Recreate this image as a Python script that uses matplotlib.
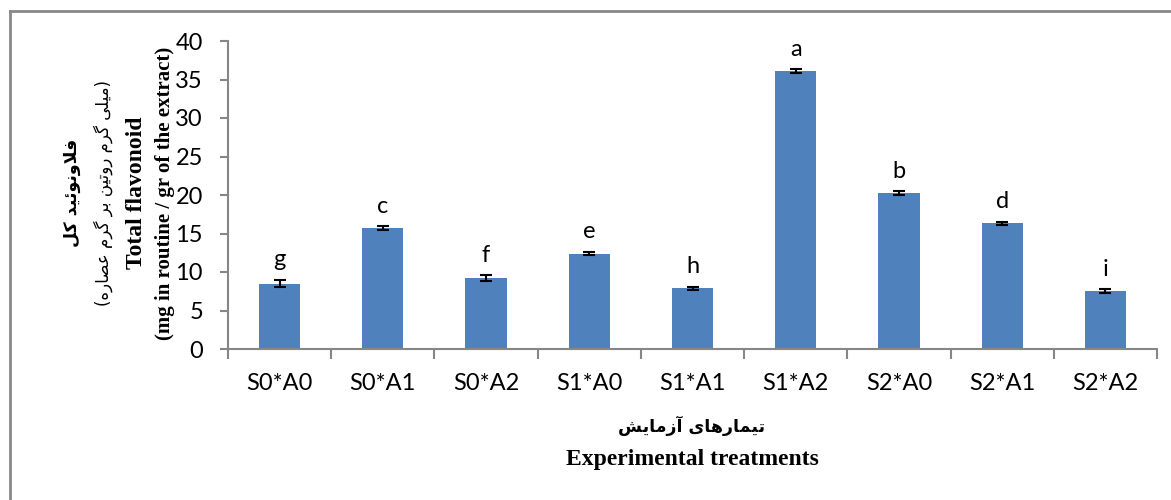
import numpy as np
import matplotlib
matplotlib.use("Agg")
import matplotlib.pyplot as plt
from matplotlib.lines import Line2D

# data
treatments = ["S0*A0", "S0*A1", "S0*A2", "S1*A0", "S1*A1", "S1*A2", "S2*A0", "S2*A1", "S2*A2"]
flavonoid = [8.5, 15.7, 9.2, 12.4, 7.9, 36.1, 20.3, 16.3, 7.5]
errors = [0.5, 0.3, 0.35, 0.25, 0.2, 0.2, 0.25, 0.25, 0.25]
groups = ["g", "c", "f", "e", "h", "a", "b", "d", "i"]

ylabel_fa = "فلاونوئید کل"
ylabel_fa_unit = "(میلی گرم روتین بر گرم عصاره)"
ylabel_en = "Total flavonoid"
ylabel_en_unit = "(mg in routine / gr of the extract)"
xlabel_fa = "تیمارهای آزمایش"
xlabel_en = "Experimental treatments"

# small arabic/persian shaper: (isolated, final, initial, medial)
FORMS = {
    'ا': (0xFE8D, 0xFE8E, None, None),
    'آ': (0xFE81, 0xFE82, None, None),
    'ب': (0xFE8F, 0xFE90, 0xFE91, 0xFE92),
    'ت': (0xFE95, 0xFE96, 0xFE97, 0xFE98),
    'د': (0xFEA9, 0xFEAA, None, None),
    'ر': (0xFEAD, 0xFEAE, None, None),
    'ز': (0xFEAF, 0xFEB0, None, None),
    'ش': (0xFEB5, 0xFEB6, 0xFEB7, 0xFEB8),
    'ص': (0xFEB9, 0xFEBA, 0xFEBB, 0xFEBC),
    'ع': (0xFEC9, 0xFECA, 0xFECB, 0xFECC),
    'ف': (0xFED1, 0xFED2, 0xFED3, 0xFED4),
    'ل': (0xFEDD, 0xFEDE, 0xFEDF, 0xFEE0),
    'م': (0xFEE1, 0xFEE2, 0xFEE3, 0xFEE4),
    'ن': (0xFEE5, 0xFEE6, 0xFEE7, 0xFEE8),
    'ه': (0xFEE9, 0xFEEA, 0xFEEB, 0xFEEC),
    'و': (0xFEED, 0xFEEE, None, None),
    'ئ': (0xFE89, 0xFE8A, 0xFE8B, 0xFE8C),
    'ی': (0xFBFC, 0xFBFD, 0xFBFE, 0xFBFF),
    'ک': (0xFB8E, 0xFB8F, 0xFB90, 0xFB91),
    'گ': (0xFB92, 0xFB93, 0xFB94, 0xFB95),
}


def dual(c):
    return c in FORMS and FORMS[c][2] is not None


def shape(s):
    out = []
    i = 0
    n = len(s)
    while i < n:
        c = s[i]
        prev = s[i - 1] if i > 0 else ''
        nxt = s[i + 1] if i + 1 < n else ''
        if c not in FORMS:
            out.append(c)
            i += 1
            continue
        before = dual(prev)
        if c == 'ل' and nxt == 'ا':
            out.append(chr(0xFEFC if before else 0xFEFB))
            i += 2
            continue
        after = dual(c) and nxt in FORMS
        f = FORMS[c]
        if before and after:
            out.append(chr(f[3]))
        elif before:
            out.append(chr(f[1]))
        elif after:
            out.append(chr(f[2]))
        else:
            out.append(chr(f[0]))
        i += 1
    vis = ''.join(out[::-1])
    return vis.translate(str.maketrans('()', ')('))


W, H = 1171, 500
fig = plt.figure(figsize=(W / 100, H / 100), dpi=100)
ax = fig.add_axes([228 / W, 1 - 349 / H, (1157 - 228) / W, (349 - 41) / H])

x = np.arange(len(treatments))
ax.bar(x, flavonoid, width=0.4, color="#4F81BD", zorder=2)
ax.errorbar(x, flavonoid, yerr=errors, fmt="none", ecolor="black",
            elinewidth=1.5, capsize=4, capthick=1.5, zorder=3)

for xi, v, e, g in zip(x, flavonoid, errors, groups):
    ax.text(xi, v + e + 1.2, g, ha="center", va="bottom",
            fontsize=17, family="Lato")

ax.set_xlim(-0.5, len(treatments) - 0.5)
ax.set_ylim(0, 40)
ax.set_yticks(np.arange(0, 41, 5))
ax.set_xticks(x)
ax.set_xticklabels(treatments, fontsize=17, family="Lato")
ax.set_xticks(np.arange(-0.5, len(treatments), 1), minor=True)
ax.tick_params(axis="x", which="major", length=0, pad=17)
ax.tick_params(axis="x", which="minor", length=7, width=1.5, color="#868686")
ax.tick_params(axis="y", length=6, width=1.5, color="#868686", labelsize=17, pad=12)
for lab in ax.get_yticklabels():
    lab.set_family("Lato")

for s in ["top", "right"]:
    ax.spines[s].set_visible(False)
for s in ["left", "bottom"]:
    ax.spines[s].set_color("#868686")
    ax.spines[s].set_linewidth(1.5)

# y axis titles (rotated)
yc = 1 - 193 / H
fig.text(72 / W, yc, shape(ylabel_fa), rotation=90, ha="center", va="center",
         fontsize=12.5, fontweight="bold", family="DejaVu Sans")
fig.text(103 / W, yc, shape(ylabel_fa_unit), rotation=90, ha="center", va="center",
         fontsize=12, family="DejaVu Sans")
fig.text(137 / W, yc, ylabel_en, rotation=90, ha="center", va="center",
         fontsize=17, fontweight="bold", family="Liberation Serif")
fig.text(165 / W, yc, ylabel_en_unit, rotation=90, ha="center", va="center",
         fontsize=15, fontweight="bold", family="Liberation Serif")

# x axis titles
xc = 692 / W
fig.text(xc, 1 - 426 / H, shape(xlabel_fa), ha="center", va="center",
         fontsize=12.5, fontweight="bold", family="DejaVu Sans")
fig.text(xc, 1 - 460 / H, xlabel_en, ha="center", va="center",
         fontsize=17, fontweight="bold", family="Liberation Serif")

# outer frame of the chart area
fig.add_artist(Line2D([10 / W, 10 / W], [0, 1 - 11 / H], transform=fig.transFigure,
                      color="#888888", lw=2))
fig.add_artist(Line2D([10 / W, 1], [1 - 11 / H, 1 - 11 / H], transform=fig.transFigure,
                      color="#888888", lw=2))

fig.savefig("out.png", dpi=100)
